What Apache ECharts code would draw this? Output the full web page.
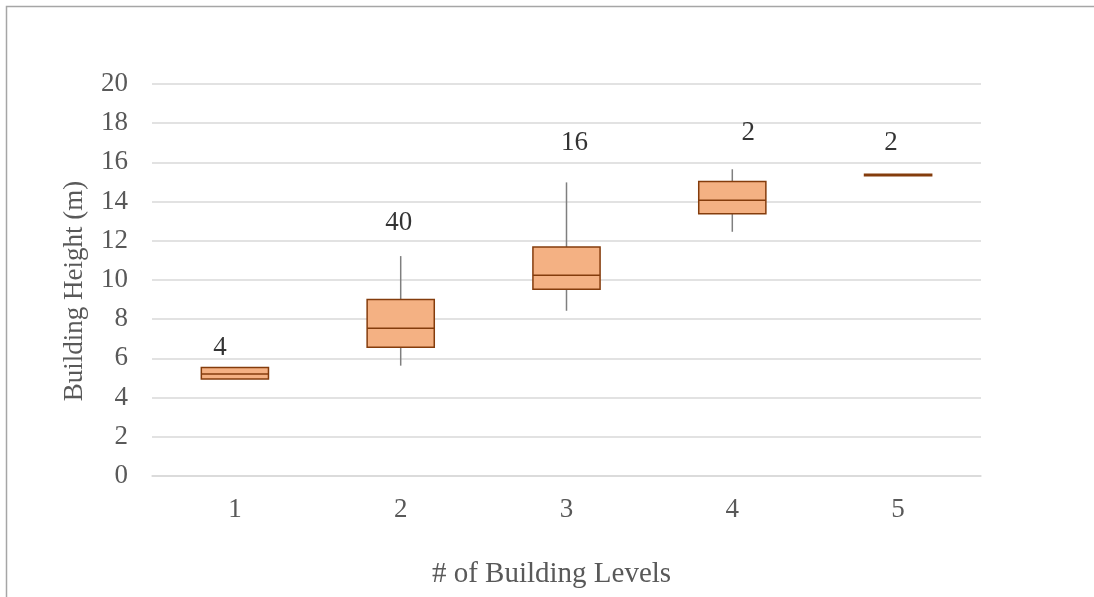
<!DOCTYPE html>
<html>
<head>
<meta charset="utf-8">
<script src="https://cdn.jsdelivr.net/npm/echarts@6/dist/echarts.min.js"></script>
<style>
  html, body { margin: 0; padding: 0; background: #fff; }
  #chart { width: 1094px; height: 597px; }
</style>
</head>
<body>
<div id="chart"></div>
<script>
// ---- data ----
const categories = ['1', '2', '3', '4', '5'];
const whiskerLow  = [4.95, 5.63, 8.43, 12.46, 15.32];
const quartile1   = [4.95, 6.57, 9.53, 13.38, 15.32];
const medians     = [5.20, 7.54, 10.24, 14.07, 15.36];
const quartile3   = [5.53, 9.01, 11.68, 15.02, 15.40];
const whiskerHigh = [5.53, 11.22, 14.98, 15.65, 15.40];
const counts      = [4, 40, 16, 2, 2];
const countLabelY = [6.56, 12.91, 16.99, 17.53, 16.99];
const yTicks = { min: 0, max: 20, interval: 2 };

// ---- style ----
const FONT = 'Liberation Serif';
const labelNudgeX = [-15, -2, 8, 16, -7];

const boxData = categories.map((c, i) => [i, whiskerLow[i], quartile1[i], medians[i], quartile3[i], whiskerHigh[i]]);
const labelData = categories.map((c, i) => ({
  value: [i, countLabelY[i]],
  label: { offset: [labelNudgeX[i], 0] }
}));

const chart = echarts.init(document.getElementById('chart'), null, { renderer: 'canvas' });
chart.setOption({
  animation: false,
  backgroundColor: '#ffffff',
  graphic: [{
    type: 'rect', silent: true, z: -10,
    shape: { x: 6.5, y: 6.5, width: 1300, height: 800 },
    style: { fill: 'none', stroke: '#A6A6A6', lineWidth: 1.5 }
  }],
  grid: { left: 152, right: 113, top: 84, bottom: 121 },
  xAxis: {
    type: 'category',
    data: categories,
    name: '# of Building Levels',
    nameLocation: 'middle',
    nameGap: 84,
    nameTextStyle: { fontFamily: FONT, fontSize: 29, color: '#595959', padding: [0, 30, 0, 0] },
    axisLine: { show: true, lineStyle: { color: '#D9D9D9', width: 1.5 } },
    axisTick: { show: false },
    axisLabel: { fontFamily: FONT, fontSize: 27, color: '#595959', margin: 20 },
    splitLine: { show: false }
  },
  yAxis: {
    type: 'value',
    min: yTicks.min, max: yTicks.max, interval: yTicks.interval,
    name: 'Building Height (m)',
    nameLocation: 'middle',
    nameRotate: 90,
    nameGap: 64,
    nameTextStyle: { fontFamily: FONT, fontSize: 27, color: '#595959', padding: [0, 22, 0, 0] },
    axisLine: { show: false },
    axisTick: { show: false },
    axisLabel: { fontFamily: FONT, fontSize: 27, color: '#595959', margin: 24 },
    splitLine: { show: true, lineStyle: { color: '#D9D9D9', width: 1.5 } }
  },
  series: [
    {
      type: 'custom',
      data: boxData,
      encode: { x: 0, y: [1, 2, 3, 4, 5] },
      renderItem: function (params, api) {
        const x = api.value(0);
        const lo = api.coord([x, api.value(1)]);
        const q1 = api.coord([x, api.value(2)]);
        const md = api.coord([x, api.value(3)]);
        const q3 = api.coord([x, api.value(4)]);
        const hi = api.coord([x, api.value(5)]);
        const cx = lo[0];
        const w = api.size([1, 0])[0] * 0.405;
        const children = [];
        if (hi[1] < q3[1] - 0.5) {
          children.push({ type: 'line', shape: { x1: cx, y1: hi[1], x2: cx, y2: q3[1] },
            style: { stroke: '#7F7F7F', lineWidth: 1.5 } });
        }
        if (lo[1] > q1[1] + 0.5) {
          children.push({ type: 'line', shape: { x1: cx, y1: q1[1], x2: cx, y2: lo[1] },
            style: { stroke: '#7F7F7F', lineWidth: 1.5 } });
        }
        children.push({ type: 'rect', shape: { x: cx - w / 2, y: q3[1], width: w, height: q1[1] - q3[1] },
          style: { fill: '#F4B183', stroke: '#843C0C', lineWidth: 1.5 } });
        children.push({ type: 'line', shape: { x1: cx - w / 2, y1: md[1], x2: cx + w / 2, y2: md[1] },
          style: { stroke: '#843C0C', lineWidth: 1.5 } });
        return { type: 'group', children: children };
      },
      z: 3
    },
    {
      type: 'scatter',
      data: labelData,
      symbolSize: 0,
      silent: true,
      label: {
        show: true,
        position: 'inside',
        formatter: function (p) { return String(counts[p.dataIndex]); },
        fontFamily: FONT, fontSize: 27, color: '#000000'
      },
      z: 4
    }
  ]
});
</script>
</body>
</html>
